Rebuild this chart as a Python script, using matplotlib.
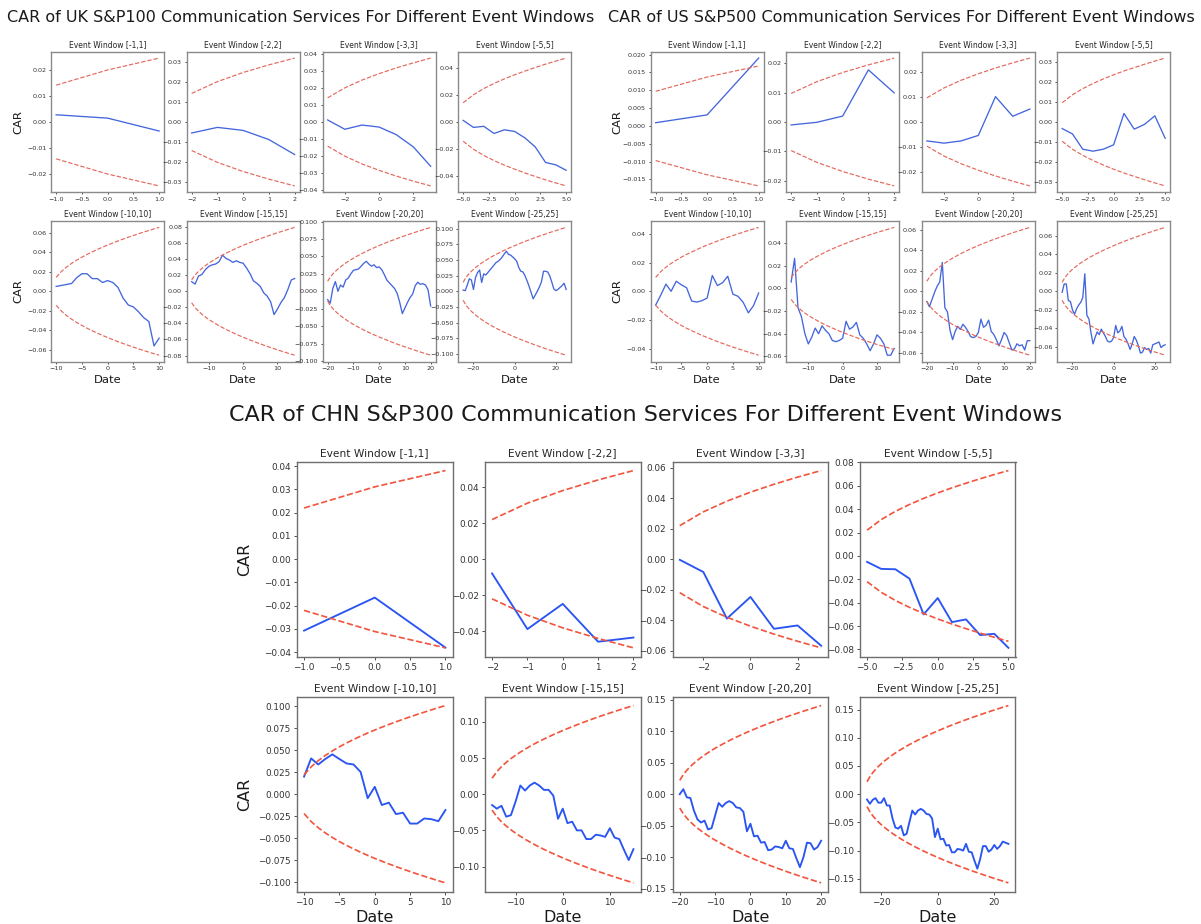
import numpy as np
import matplotlib.pyplot as plt

W, H = 1201, 924
windows = [1, 2, 3, 5, 10, 15, 20, 25]

# UK S&P100 - CAR per event window
uk_w1 = [0.0028, 0.0015, -0.0035]
uk_w2 = [-0.0055, -0.0027, -0.0042, -0.0088, -0.0163]
uk_w3 = [0.0012, -0.0043, -0.0018, -0.0030, -0.0075, -0.0148, -0.0262]
uk_w5 = [0.0012, -0.0040, -0.0032, -0.0085, -0.0058, -0.0070, -0.0118, -0.0185,
         -0.0300, -0.0318, -0.0358]
uk_w10 = [0.005, 0.006, 0.007, 0.008, 0.014, 0.018, 0.018, 0.013, 0.013, 0.009,
          0.011, 0.009, 0.004, -0.007, -0.014, -0.016, -0.021, -0.027, -0.031,
          -0.056, -0.048]
uk_w15 = [0.012, 0.009, 0.019, 0.021, 0.027, 0.031, 0.033, 0.034, 0.037, 0.045,
          0.041, 0.039, 0.036, 0.038, 0.036, 0.035, 0.029, 0.022, 0.013, 0.010,
          0.006, -0.002, -0.006, -0.013, -0.029, -0.022, -0.014, -0.008, 0.002,
          0.014, 0.016]
uk_w20 = [-0.012, -0.017, 0.004, 0.014, 0.000, 0.009, 0.006, 0.016, 0.019, 0.025,
          0.030, 0.031, 0.032, 0.036, 0.040, 0.043, 0.039, 0.036, 0.038, 0.034,
          0.035, 0.031, 0.024, 0.016, 0.012, 0.008, 0.004, -0.003, -0.016, -0.032,
          -0.024, -0.016, -0.009, -0.004, 0.008, 0.013, 0.010, 0.011, 0.009, 0.002,
          -0.021]
uk_w25 = [0.002, 0.001, 0.010, 0.020, 0.018, 0.003, 0.022, 0.030, 0.034, 0.014,
          0.028, 0.026, 0.030, 0.034, 0.038, 0.042, 0.046, 0.048, 0.051, 0.055,
          0.060, 0.064, 0.059, 0.058, 0.055, 0.052, 0.048, 0.038, 0.032, 0.031,
          0.025, 0.017, 0.008, -0.002, -0.012, -0.006, 0.000, 0.007, 0.015, 0.032,
          0.032, 0.031, 0.025, 0.015, 0.004, 0.001, 0.003, 0.006, 0.009, 0.013,
          0.003]

# US S&P500
us_w1 = [0.0009, 0.0031, 0.0190]
us_w2 = [-0.0010, -0.0001, 0.0020, 0.0177, 0.0099]
us_w3 = [-0.0076, -0.0085, -0.0076, -0.0054, 0.0102, 0.0023, 0.0052]
us_w5 = [-0.0033, -0.0060, -0.0137, -0.0147, -0.0137, -0.0115, 0.0043, -0.0036,
         -0.0012, 0.0031, -0.0082]
us_w10 = [-0.0096, -0.0026, 0.0050, 0.0000, 0.0070, 0.0045, 0.0025, -0.0068,
          -0.0075, -0.0065, -0.0047, 0.0110, 0.0040, 0.0060, 0.0105, -0.0020,
          -0.0035, -0.0077, -0.0150, -0.0100, -0.0012]
us_w15 = [0.0057, 0.0266, -0.0170, -0.0250, -0.0400, -0.0490, -0.0430, -0.0350,
          -0.0400, -0.0330, -0.0370, -0.0400, -0.0460, -0.0470, -0.0460, -0.0440,
          -0.0290, -0.0360, -0.0340, -0.0300, -0.0410, -0.0440, -0.0490, -0.0550,
          -0.0490, -0.0410, -0.0440, -0.0490, -0.0590, -0.0590, -0.0530]
us_w20 = [-0.010, -0.015, -0.008, -0.001, 0.005, 0.009, 0.028, -0.016, -0.020, -0.038,
          -0.047, -0.039, -0.034, -0.037, -0.032, -0.035, -0.039, -0.044, -0.045, -0.044,
          -0.040, -0.027, -0.035, -0.033, -0.028, -0.039, -0.042, -0.047, -0.053, -0.047,
          -0.040, -0.043, -0.050, -0.057, -0.056, -0.051, -0.053, -0.052, -0.057, -0.048,
          -0.048]
us_w25 = [-0.001, 0.008, 0.008, -0.010, -0.011, -0.020, -0.025, -0.019, -0.015, -0.012,
          -0.007, 0.019, -0.026, -0.030, -0.045, -0.057, -0.050, -0.044, -0.047, -0.041,
          -0.045, -0.049, -0.054, -0.055, -0.054, -0.050, -0.037, -0.045, -0.043, -0.038,
          -0.049, -0.052, -0.057, -0.063, -0.057, -0.049, -0.053, -0.059, -0.067, -0.066,
          -0.061, -0.063, -0.062, -0.067, -0.058, -0.057, -0.056, -0.055, -0.061, -0.059,
          -0.058]

# CHN S&P300
chn_w1 = [-0.0307, -0.0165, -0.0380]
chn_w2 = [-0.0079, -0.0388, -0.0248, -0.0458, -0.0435]
chn_w3 = [-0.0004, -0.0084, -0.0390, -0.0248, -0.0457, -0.0435, -0.0568]
chn_w5 = [-0.0051, -0.0111, -0.0114, -0.0194, -0.0500, -0.0360, -0.0566, -0.0543,
          -0.0677, -0.0666, -0.0786]
chn_w10 = [0.0200, 0.0407, 0.0338, 0.0400, 0.0453, 0.0400, 0.0350, 0.0338, 0.0253,
           -0.0046, 0.0084, -0.0123, -0.0096, -0.0226, -0.0211, -0.0334, -0.0334,
           -0.0276, -0.0284, -0.0307, -0.0180]
chn_w15 = [-0.015, -0.020, -0.016, -0.031, -0.029, -0.010, 0.012, 0.005, 0.012, 0.016,
           0.012, 0.006, 0.006, -0.002, -0.034, -0.020, -0.040, -0.038, -0.050, -0.050,
           -0.062, -0.062, -0.056, -0.057, -0.059, -0.047, -0.060, -0.062, -0.077, -0.091,
           -0.076]
chn_w20 = [0.000, 0.008, -0.005, -0.006, -0.026, -0.040, -0.045, -0.042, -0.056, -0.054,
           -0.034, -0.014, -0.020, -0.014, -0.011, -0.014, -0.021, -0.022, -0.028, -0.059,
           -0.047, -0.067, -0.066, -0.077, -0.076, -0.089, -0.088, -0.083, -0.084, -0.086,
           -0.074, -0.086, -0.087, -0.102, -0.116, -0.100, -0.077, -0.078, -0.088, -0.084,
           -0.074]
chn_w25 = [-0.0095, -0.017, -0.010, -0.007, -0.015, -0.015, -0.007, -0.020, -0.020, -0.043,
           -0.059, -0.061, -0.056, -0.073, -0.070, -0.049, -0.029, -0.036, -0.029, -0.026,
           -0.029, -0.035, -0.036, -0.043, -0.076, -0.061, -0.080, -0.079, -0.091, -0.090,
           -0.103, -0.103, -0.097, -0.098, -0.100, -0.088, -0.102, -0.103, -0.118, -0.132,
           -0.115, -0.092, -0.092, -0.102, -0.098, -0.090, -0.097, -0.092, -0.084, -0.086,
           -0.088]

# half-width of the dashed confidence band on day k of a window (k = 1..51)
uk_band = [0.0143, 0.0202, 0.0248, 0.0286, 0.0320, 0.0350, 0.0378, 0.0404, 0.0429, 0.0452,
           0.0474, 0.0495, 0.0516, 0.0535, 0.0554, 0.0572, 0.0590, 0.0607, 0.0623, 0.0640,
           0.0655, 0.0671, 0.0686, 0.0701, 0.0715, 0.0729, 0.0743, 0.0757, 0.0770, 0.0783,
           0.0796, 0.0809, 0.0821, 0.0834, 0.0846, 0.0858, 0.0870, 0.0882, 0.0893, 0.0904,
           0.0916, 0.0927, 0.0938, 0.0949, 0.0959, 0.0970, 0.0980, 0.0991, 0.1001, 0.1011,
           0.1021]
us_band = [0.0097, 0.0137, 0.0168, 0.0194, 0.0217, 0.0238, 0.0257, 0.0274, 0.0291, 0.0307,
           0.0322, 0.0336, 0.0350, 0.0363, 0.0376, 0.0388, 0.0400, 0.0412, 0.0423, 0.0434,
           0.0445, 0.0455, 0.0465, 0.0475, 0.0485, 0.0495, 0.0504, 0.0513, 0.0522, 0.0531,
           0.0540, 0.0549, 0.0557, 0.0566, 0.0574, 0.0582, 0.0590, 0.0598, 0.0606, 0.0613,
           0.0621, 0.0629, 0.0636, 0.0643, 0.0651, 0.0658, 0.0665, 0.0672, 0.0679, 0.0686,
           0.0693]
chn_band = [0.0220, 0.0311, 0.0381, 0.0440, 0.0492, 0.0539, 0.0582, 0.0622, 0.0660, 0.0696,
            0.0730, 0.0762, 0.0793, 0.0823, 0.0852, 0.0880, 0.0907, 0.0933, 0.0959, 0.0984,
            0.1008, 0.1032, 0.1055, 0.1078, 0.1100, 0.1122, 0.1143, 0.1164, 0.1185, 0.1205,
            0.1225, 0.1245, 0.1264, 0.1283, 0.1302, 0.1320, 0.1338, 0.1356, 0.1374, 0.1391,
            0.1409, 0.1426, 0.1443, 0.1459, 0.1476, 0.1492, 0.1508, 0.1524, 0.1540, 0.1556,
            0.1571]

uk_cars = [uk_w1, uk_w2, uk_w3, uk_w5, uk_w10, uk_w15, uk_w20, uk_w25]
us_cars = [us_w1, us_w2, us_w3, us_w5, us_w10, us_w15, us_w20, us_w25]
chn_cars = [chn_w1, chn_w2, chn_w3, chn_w5, chn_w10, chn_w15, chn_w20, chn_w25]


def px_axes(fig, left, top, width, height):
    return fig.add_axes([left / W, 1 - (top + height) / H, width / W, height / H])


def draw_panel(fig, title, cars, band, lefts, tops, aw, ah, s, title_xy, car_x,
               date_y, blue, red, lw, edge):
    fig.text(title_xy[0] / W, 1 - title_xy[1] / H, title, fontsize=25 * s,
             ha='center', va='center', color='#1a1a1a')
    for i, (w, car) in enumerate(zip(windows, cars)):
        left, top = lefts[i % 4], tops[i // 4]
        ax = px_axes(fig, left, top, aw, ah)
        days = np.arange(-w, w + 1)
        upper = np.array(band[:len(days)])
        ax.plot(days, car, color=blue, lw=lw)
        ax.plot(days, upper, color=red, ls='--', lw=lw * 0.9)
        ax.plot(days, -upper, color=red, ls='--', lw=lw * 0.9)
        ax.set_title(f'Event Window [-{w},{w}]', fontsize=12 * s, pad=6 * s,
                     color='#262626')
        ax.tick_params(labelsize=10 * s, length=3.5 * s, width=0.6, pad=3.5 * s,
                       colors='#333333')
        for sp in ax.spines.values():
            sp.set_color(edge)
            sp.set_linewidth(1.0)
        if i % 4 == 0:
            fig.text(car_x / W, 1 - (top + ah / 2) / H, 'CAR', rotation=90,
                     fontsize=18 * s, ha='center', va='center', color='#1a1a1a')
        if i >= 4:
            fig.text((left + aw / 2) / W, 1 - date_y / H, 'Date', fontsize=18 * s,
                     ha='center', va='center', color='#1a1a1a')


fig = plt.figure(figsize=(W / 100, H / 100), dpi=100)
fig.patch.set_facecolor('white')

small_tops = [51.7, 221]
draw_panel(fig, 'CAR of UK S&P100 Communication Services For Different Event Windows',
           uk_cars, uk_band, [51, 186.5, 322.5, 458], small_tops, 113.3, 140.6, 0.46,
           (301, 18), 18, 380, '#4466dd', '#e4695c', 0.95, '#8a8a8a')
draw_panel(fig, 'CAR of US S&P500 Communication Services For Different Event Windows',
           us_cars, us_band, [650.5, 786, 921.7, 1057], small_tops, 113.3, 140.6, 0.46,
           (901, 18), 617, 380, '#4466dd', '#e4695c', 0.95, '#8a8a8a')
draw_panel(fig, 'CAR of CHN S&P300 Communication Services For Different Event Windows',
           chn_cars, chn_band, [297, 485, 672.7, 860], [461.7, 696.7], 155.5, 195, 0.64,
           (646, 415), 245, 918, '#2a55f2', '#f2553e', 1.35, '#6e6e6e')

fig.savefig('out.png', dpi=100, facecolor='white')
